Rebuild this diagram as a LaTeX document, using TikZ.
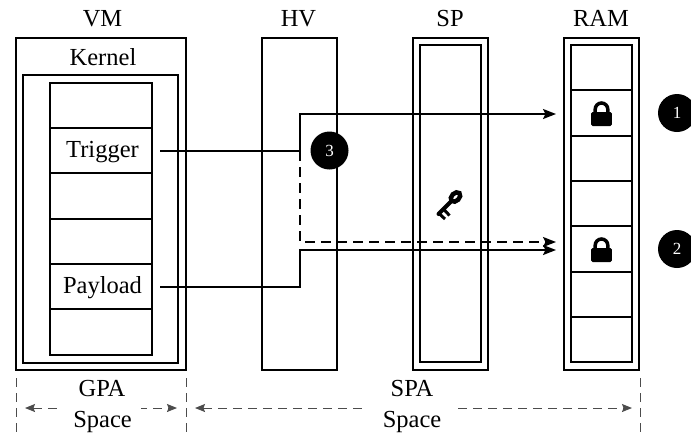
\documentclass[tikz,border=0pt]{standalone}
\usepackage{fontspec}
\setmainfont{Liberation Serif}
\usetikzlibrary{arrows.meta}
\tikzset{
  box/.style={draw=black,line width=2pt,minimum width=#1,anchor=north west,inner sep=0pt,outer sep=0pt},
  lab/.style={font=\fontsize{24.5}{24.5}\selectfont,inner sep=0pt,anchor=base},
  conn/.style={line width=2pt,-{Stealth[length=13pt,width=10pt,inset=2.5pt]}},
  bullet/.style={circle,fill=black,minimum size=38pt,inner sep=0pt,text=white,font=\fontsize{17}{17}\selectfont},
  dim/.style={draw=black!70,line width=1pt,dash pattern=on 9pt off 6pt},
  dimarrow/.style={dim,{Stealth[length=10pt,width=8pt,inset=1.5pt]}-{Stealth[length=10pt,width=8pt,inset=1.5pt]}}
}
\begin{document}
\begin{tikzpicture}[x=1pt,y=-1pt]
\useasboundingbox (0,0) rectangle (691,432);
% outer boxes
\node[box=170pt,minimum height=332pt] (vm) at (16,38) {};
\node[box=155pt,minimum height=288pt] (kernel) at (23,75) {};
\node[box=75pt,minimum height=332pt] (hv) at (262,38) {};
\node[box=75pt,minimum height=332pt] (sp) at (413,38) {};
\node[box=61pt,minimum height=317pt] (spi) at (420,45) {};
\node[box=75pt,minimum height=332pt] (ram) at (564,38) {};
% titles
\node[lab] (tvm) at (102.5,26.7) {VM};
\node[lab] (thv) at (298.5,26.7) {HV};
\node[lab] (tsp) at (450,26.7) {SP};
\node[lab] (tram) at (601,26.7) {RAM};
\node[lab] (tk) at (103,65) {Kernel};
% VM stack
\foreach \n/\y/\h in {a/83/45,b/128/45,c/173/46,d/219/45,e/264/45,f/309/46}
  \node[box=102pt,minimum height=\h pt] (\n) at (50,\y) {};
\node[lab] at (102.5,157) {Trigger};
\node[lab] at (102.5,293) {Payload};
% RAM stack
\foreach \n/\y/\h in {ra/45/45,rb/90/46,rc/136/45,rd/181/45,re/226/46,rf/272/45,rg/317/45}
  \node[box=61pt,minimum height=\h pt] (\n) at (571,\y) {};
% locks
\foreach \c in {rb,re}{
  \fill[black,rounded corners=1.5pt] ([shift={(-10.3,-1)}]\c.center) rectangle ([shift={(10.3,13)}]\c.center);
  \draw[black,line width=3.5pt] ([shift={(-6.3,0)}]\c.center) -- ([shift={(-6.3,-3.7)}]\c.center) arc[start angle=180,end angle=0,radius=6.3pt] -- ([shift={(6.3,0)}]\c.center);
}
% key
\begin{scope}[shift={(455.5,197)}]
  \draw[black,line width=4.5pt,rotate=45] (0,0) ellipse[x radius=5.5pt,y radius=3.8pt];
  \draw[black,line width=4pt,line cap=round] (-5,5) -- (-17,17);
  \draw[black,line width=3pt] (-12,12) -- (-6,18.5);
  \draw[black,line width=3pt] (-16.5,16.5) -- (-10.5,22);
\end{scope}
% connectors
\coordinate (tstart) at (160,151);
\coordinate (pstart) at (160,287);
\coordinate (tbend) at (300,151);
\coordinate (tup) at (300,114);
\coordinate (pbend) at (300,287);
\coordinate (pup) at (300,250);
\coordinate (tend) at (556,114);
\coordinate (pend) at (556,250);
\coordinate (dbend) at (300,242);
\coordinate (dend) at (556,242);
\draw[conn,dash pattern=on 10pt off 6pt] (tbend) -- (dbend) -- (dend);
\draw[conn] (tstart) -- (tbend) -- (tup) -- (tend);
\draw[conn] (pstart) -- (pbend) -- (pup) -- (pend);
% bullets
\node[bullet] (n3) at (329.5,150.5) {3};
\node[bullet] (n1) at (677,113) {1};
\node[bullet] (n2) at (677,249) {2};
% bottom dimension
\coordinate (g0) at (16,378); \coordinate (g0b) at (16,432);
\coordinate (g1) at (186,378); \coordinate (g1b) at (186,432);
\coordinate (g2) at (640,378); \coordinate (g2b) at (640,432);
\draw[dim] (g0) -- (g0b);
\draw[dim] (g1) -- (g1b);
\draw[dim] (g2) -- (g2b);
\coordinate (al) at (25,408); \coordinate (ar) at (177,408);
\coordinate (bl) at (195,408); \coordinate (br) at (632,408);
\draw[dimarrow] (al) -- (ar);
\draw[dimarrow] (bl) -- (br);
\node[lab,fill=white,text depth=14pt,minimum width=78pt] (gp) at (102,396.5) {GPA};
\node[lab] (gs) at (102.5,427) {Space};
\node[lab,fill=white,text depth=14pt,minimum width=91pt] (sp2) at (412,396.5) {SPA};
\node[lab] (ss) at (412,427) {Space};
\end{tikzpicture}
\end{document}
